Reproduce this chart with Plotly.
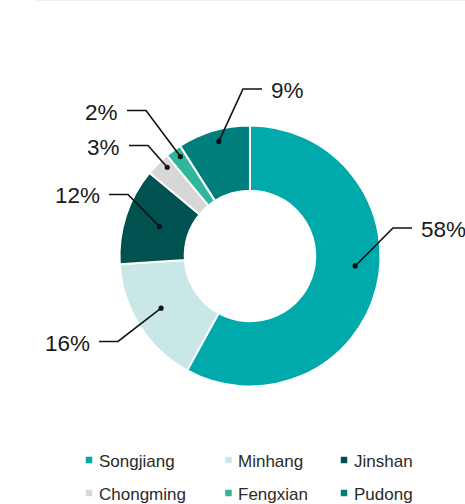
import math
import plotly.graph_objects as go

# ---- data ----
districts = ["Songjiang", "Minhang", "Jinshan", "Chongming", "Fengxian", "Pudong"]
shares = [58, 16, 12, 3, 2, 9]
label_texts = ["58%", "16%", "12%", "3%", "2%", "9%"]
colors = ["#00aaab", "#c9e7e7", "#005250", "#d7d7d7", "#30b69a", "#007e7b"]

# ---- layout helpers (pixels) ----
W, H = 465, 504
CX, CY, R = 250, 256, 130.5
HOLE = 0.5


def xp(px):
    return px / W


def yp(py):
    return 1 - py / H


# label placement: side, label row y, elbow x, dot radius factor, angle nudge
label_layout = {
    "Songjiang": dict(side="right", ey=228, ex=393, rf=0.81, dth=-9),
    "Minhang": dict(side="left", ey=341.5, ex=118, rf=0.79, dth=2),
    "Jinshan": dict(side="left", ey=194.5, ex=128, rf=0.73, dth=0),
    "Chongming": dict(side="left", ey=145.5, ex=148, rf=0.93, dth=2),
    "Fengxian": dict(side="left", ey=110.5, ex=146, rf=0.93, dth=1),
    "Pudong": dict(side="right", ey=89, ex=243, rf=0.91, dth=1),
}
HLEN = 19
TGAP = 7

fig = go.Figure()
fig.add_trace(go.Pie(
    labels=districts,
    values=shares,
    hole=HOLE,
    sort=False,
    direction="clockwise",
    rotation=0,
    marker=dict(colors=colors, line=dict(color="white", width=2)),
    textinfo="none",
    showlegend=False,
    domain=dict(x=[xp(CX - R), xp(CX + R)], y=[yp(CY + R), yp(CY - R)]),
))

shapes = []
annotations = []
total = sum(shares)
cum = 0
for name, v, txt in zip(districts, shares, label_texts):
    lay = label_layout[name]
    theta = math.radians(360 * (cum + v / 2) / total + lay["dth"])
    cum += v
    dx = CX + R * lay["rf"] * math.sin(theta)
    dy = CY - R * lay["rf"] * math.cos(theta)
    ex, ey = lay["ex"], lay["ey"]
    if lay["side"] == "right":
        lx = ex + HLEN
        tx, anchor = lx + TGAP, "left"
    else:
        lx = ex - HLEN
        tx, anchor = lx - TGAP, "right"
    shapes.append(dict(
        type="path", xref="paper", yref="paper",
        path=f"M {xp(dx)},{yp(dy)} L {xp(ex)},{yp(ey)} L {xp(lx)},{yp(ey)}",
        line=dict(color="#111111", width=1.6),
    ))
    rr = 2.6
    shapes.append(dict(
        type="circle", xref="paper", yref="paper",
        x0=xp(dx - rr), x1=xp(dx + rr), y0=yp(dy + rr), y1=yp(dy - rr),
        fillcolor="#111111", line=dict(width=0),
    ))
    annotations.append(dict(
        x=xp(tx), y=yp(ey + 1.5), xref="paper", yref="paper",
        text=txt, showarrow=False, xanchor=anchor, yanchor="middle",
        font=dict(family="Liberation Sans, Arial, sans-serif", size=22.5, color="#1a1a1a"),
    ))

# ---- manual legend (3 columns x 2 rows) ----
legend_cols_x = [89, 228.5, 344]
legend_rows_y = [460, 493]
MS = 6.5
for i, (name, col) in enumerate(zip(districts, colors)):
    mx = legend_cols_x[i % 3]
    my = legend_rows_y[i // 3]
    shapes.append(dict(
        type="rect", xref="paper", yref="paper",
        x0=xp(mx - MS / 2), x1=xp(mx + MS / 2), y0=yp(my + MS / 2), y1=yp(my - MS / 2),
        fillcolor=col, line=dict(width=0),
    ))
    annotations.append(dict(
        x=xp(mx + 7.5), y=yp(my + 1), xref="paper", yref="paper",
        text=name, showarrow=False, xanchor="left", yanchor="middle",
        font=dict(family="Liberation Sans, Arial, sans-serif", size=17, color="#2a2a2a"),
    ))

# faint top rule
shapes.append(dict(
    type="line", xref="paper", yref="paper",
    x0=xp(37), x1=1, y0=yp(0.5), y1=yp(0.5),
    line=dict(color="#eeeeee", width=1),
))

fig.update_layout(
    width=W, height=H,
    margin=dict(l=0, r=0, t=0, b=0),
    paper_bgcolor="white", plot_bgcolor="white",
    shapes=shapes, annotations=annotations,
    showlegend=False,
)

fig.write_html(
    "out.html",
    config={"displayModeBar": False},
    post_script="document.body.style.margin='0';document.body.style.overflow='hidden';"
                "document.documentElement.style.overflow='hidden';",
)
